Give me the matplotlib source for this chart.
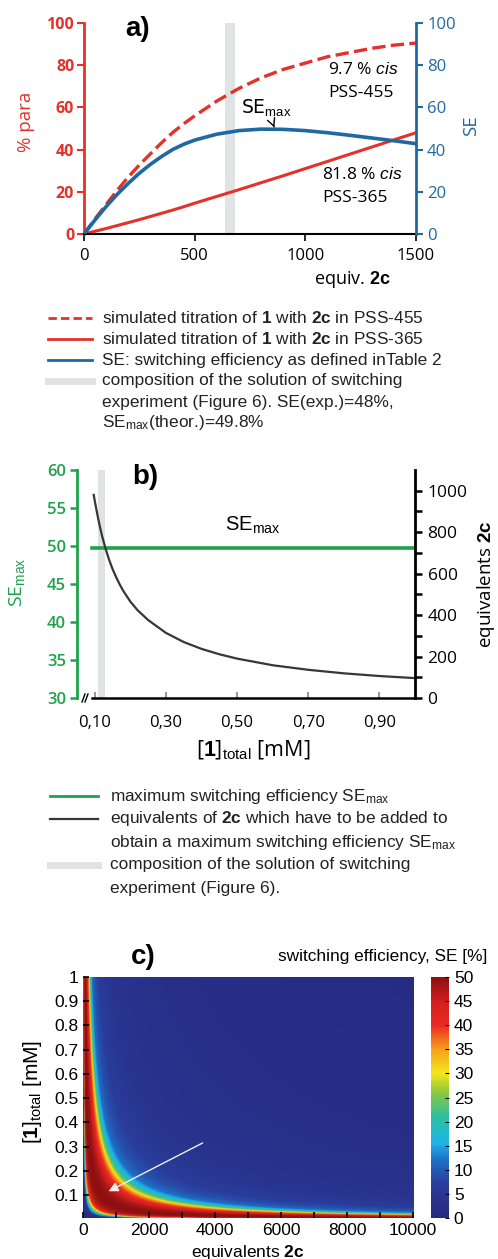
import numpy as np
import matplotlib
matplotlib.use("Agg")
import matplotlib.pyplot as plt
from matplotlib.lines import Line2D
from matplotlib.colors import LinearSegmentedColormap

#Data
#---------------------------------
#panel a: % para vs equiv. 2c
eq_a = [0, 50, 100, 150, 200, 250, 300, 350, 400, 450, 500, 600, 700, 800, 900, 1000, 1100, 1200, 1300, 1400, 1500]
para_455 = [0, 7.2, 14, 20.7, 27, 32.7, 38, 43.2, 48, 52.2, 56, 63, 69, 74, 78, 81, 84, 86, 88, 89.5, 90.5]
para_365 = [0, 1.3, 2.6, 4.0, 5.4, 6.8, 8.3, 9.8, 11.3, 12.9, 14.6, 17.8, 21.0, 24.3, 27.6, 31.0, 34.4, 37.8, 41.2, 44.6, 48.0]
se_a = [0, 6.7, 13, 18.8, 24, 28.8, 33, 36.7, 40, 42.5, 44.5, 47.3, 49, 49.7, 49.6, 49, 48, 46.8, 45.5, 44.2, 42.8]
exp_band_a = [635, 680]

#panel b: equivalents of 2c giving SEmax vs [1]total
c_b = [0.097, 0.10, 0.105, 0.11, 0.115, 0.12, 0.13, 0.14, 0.15, 0.16, 0.17, 0.18, 0.20, 0.22, 0.25,
       0.30, 0.35, 0.40, 0.45, 0.50, 0.60, 0.70, 0.80, 0.90, 1.00]
eq_b = [980, 950, 905, 862, 822, 785, 722, 668, 622, 583, 548, 517, 465, 424, 376,
        314, 270, 237, 211, 190, 158, 136, 119, 106, 96]
se_max = 49.8
se_line_x = [0.092, 1.0]
exp_band_b = [0.108, 0.128]

#panel c: SE read along the [1]total = 0.1 mM row (map follows equiv*[1] hyperbolas)
row_c = 0.1
row_equiv = [0, 30, 60, 85, 110, 140, 180, 250, 360, 500, 700, 1000, 1270, 1420, 1640,
             1820, 2020, 2320, 2730, 3500, 5000, 7000, 10000, 30000, 100000]
row_se = [0, 2, 5, 15, 22, 30, 40, 46, 49, 50, 49.5, 47, 43, 40, 36,
          30, 24, 17, 12, 9, 6.5, 5, 3.5, 2, 1]
arrow_from = (3700, 0.32); arrow_to = (700, 0.11)
#---------------------------------

#Figure settings
#---------------------------------
W = 498; H = 1259
red = '#e4312a'; blue = '#1f69a3'; green = '#1ea24b'; band = '#dfe3e3'; dark = '#3b3535'
plt.rcParams['mathtext.fontset'] = 'custom'
plt.rcParams['mathtext.rm'] = 'Liberation Sans'
plt.rcParams['mathtext.bf'] = 'Liberation Sans:bold'
plt.rcParams['mathtext.it'] = 'Liberation Sans:italic'
sans = 'Open Sans'; arial = 'Liberation Sans'
size_leg = 12.4

def box(l, t, r, b):
    return [l/W, 1-b/H, (r-l)/W, (b-t)/H]

def ftext(x, y, s, **kw):
    return fig.text(x/W, 1-y/H, s, **kw)

def fline(x0, x1, y0, y1, **kw):
    fig.add_artist(Line2D([x0/W, x1/W], [1-y0/H, 1-y1/H], transform=fig.transFigure, **kw))

fig = plt.figure(figsize=(W/100, H/100), dpi=100)
#---------------------------------

#Panel a
#---------------------------------
ax = fig.add_axes(box(84, 23, 416, 234))
ax.axvspan(exp_band_a[0], exp_band_a[1], color=band, lw=0, zorder=0)
ax.plot(eq_a, para_455, color=red, lw=2.4, dashes=(4, 1.6))
ax.plot(eq_a, para_365, color=red, lw=2.2)
ax2 = ax.twinx()
ax2.plot(eq_a, se_a, color=blue, lw=2.6)
ax.set_xlim(0, 1500); ax.set_ylim(0, 100); ax2.set_ylim(0, 100)
ax.set_xticks([0, 500, 1000, 1500]); ax.set_yticks(range(0, 101, 20)); ax2.set_yticks(range(0, 101, 20))
for a in (ax, ax2):
    a.spines['top'].set_visible(False)
ax.spines['left'].set_color(red); ax.spines['left'].set_linewidth(2)
ax2.spines['right'].set_color(blue); ax2.spines['right'].set_linewidth(2)
ax.spines['bottom'].set_linewidth(1.5)
ax2.spines['left'].set_visible(False); ax2.spines['bottom'].set_visible(False)
ax.spines['right'].set_visible(False)
ax.tick_params(axis='y', colors=red, labelsize=11.5, length=5, width=1.5, pad=2)
ax2.tick_params(axis='y', colors=blue, labelsize=12, length=5, width=1.5, pad=3)
ax.tick_params(axis='x', labelsize=12, length=5, width=1.2, pad=5)
for lab in ax.get_xticklabels() + ax2.get_yticklabels():
    lab.set_family(sans)
for lab in ax.get_yticklabels():
    lab.set_family(sans); lab.set_weight('bold')
ftext(26, 122, '% para', rotation=90, color=red, fontsize=13.5, family=sans, ha='center', va='center')
ftext(471, 126, 'SE', rotation=90, color=blue, fontsize=13.5, family=sans, ha='center', va='center')
ftext(352, 279, r'equiv. $\mathbf{2c}$', fontsize=13, family=sans, ha='center', va='center')
ftext(138, 29, 'a)', fontsize=20, weight='bold', family=arial, ha='center', va='center')
ax.annotate(r'SE$_{\rm max}$', xy=(860, 50.5), xytext=(825, 60), fontsize=13.5, ha='center', va='center',
            arrowprops=dict(arrowstyle='->', color='black', lw=1, shrinkA=5, shrinkB=0))
ax.text(1102, 77.5, r'9.7 % $\it{cis}$', fontsize=12.5, va='center', ha='left', family=sans)
ax.text(1102, 67, 'PSS-455', fontsize=12.5, va='center', ha='left', family=sans)
ax.text(1075, 28, r'81.8 % $\it{cis}$', fontsize=12.5, va='center', ha='left', family=sans)
ax.text(1078, 17, 'PSS-365', fontsize=12.5, va='center', ha='left', family=sans)

#legend a
fline(48, 92, 318, 318, color=red, lw=2, dashes=(3, 1.5))
fline(48, 92, 339, 339, color=red, lw=2)
fline(48, 92, 360, 360, color=blue, lw=2)
fline(48, 92, 381, 381, color=band, lw=5)
leg_a = [r'simulated titration of $\mathbf{1}$ with $\mathbf{2c}$ in PSS-455',
         r'simulated titration of $\mathbf{1}$ with $\mathbf{2c}$ in PSS-365',
         'SE: switching efficiency as defined inTable 2',
         'composition of the solution of switching',
         'experiment (Figure 6). SE(exp.)=48%,',
         r'SE$_{\rm max}$(theor.)=49.8%']
for i, s in enumerate(leg_a):
    ftext(102, 318 + 21*i, s, fontsize=size_leg, family=arial, va='center', color='#222222')
#---------------------------------

#Panel b
#---------------------------------
bx = fig.add_axes(box(77, 470, 415, 698))
bx.axvspan(exp_band_b[0], exp_band_b[1], color=band, lw=0, zorder=0)
bx.plot(se_line_x, [se_max, se_max], color=green, lw=2.6)
bx.set_xlim(0.05, 1.0); bx.set_ylim(30, 60)
bx.set_yticks(range(30, 61, 5))
bx.set_xticks([0.1, 0.3, 0.5, 0.7, 0.9])
bx.set_xticklabels(['0,10', '0,30', '0,50', '0,70', '0,90'])
bx2 = bx.twinx()
bx2.plot(c_b, eq_b, color=dark, lw=1.6)
bx2.set_ylim(0, 1100)
bx2.set_yticks(range(0, 1001, 200)); bx2.set_yticks(range(100, 1000, 200), minor=True)
for a in (bx, bx2):
    a.spines['top'].set_visible(False)
bx.spines['right'].set_visible(False); bx2.spines['left'].set_visible(False)
bx2.spines['bottom'].set_visible(False)
bx.spines['left'].set_color(green); bx.spines['left'].set_linewidth(2)
bx2.spines['right'].set_linewidth(2)
bx.spines['bottom'].set_linewidth(1.8); bx.spines['bottom'].set_bounds(0.092, 1.0)
bx.tick_params(axis='y', colors=green, labelsize=12, length=5, width=1.8, pad=3)
bx2.tick_params(axis='y', which='both', labelsize=12.5, length=5, width=1.8, pad=4)
bx.tick_params(axis='x', direction='in', length=4, width=1.5, color='#999999', labelsize=12, pad=12)
for lab in bx.get_xticklabels() + bx2.get_yticklabels():
    lab.set_family(sans)
for lab in bx.get_yticklabels():
    lab.set_family(sans); lab.set_weight('semibold')
#axis break marks
for dx in (0, 3):
    fline(82 + dx, 85 + dx, 702, 694, color='black', lw=1)
ftext(17, 582, r'SE$_{\rm max}$', rotation=90, color=green, fontsize=14, family=sans, ha='center', va='center')
ftext(486, 584, r'equivalents $\mathbf{2c}$', rotation=90, fontsize=13.5, family=sans, ha='center', va='center')
ftext(253, 750, r'[$\mathbf{1}$]$_{\rm total}$ [mM]', fontsize=15.5, family=sans, ha='center', va='center')
ftext(145, 477, 'b)', fontsize=20, weight='bold', family=arial, ha='center', va='center')
ftext(253, 525, r'SE$_{\rm max}$', fontsize=14.5, family=arial, ha='center', va='center')

#legend b
fline(50, 98, 796, 796, color=green, lw=2)
fline(50, 98, 819, 819, color=dark, lw=1.6)
fline(50, 98, 865, 865, color=band, lw=5)
leg_b = [r'maximum switching efficiency SE$_{\rm max}$',
         r'equivalents of $\mathbf{2c}$ which have to be added to',
         r'obtain a maximum switching efficiency SE$_{\rm max}$',
         'composition of the solution of switching',
         'experiment (Figure 6).']
for i, s in enumerate(leg_b):
    ftext(110, 796 + 23*i, s, fontsize=size_leg, family=arial, va='center', color='#222222')
#---------------------------------

#Panel c
#---------------------------------
cx = fig.add_axes(box(83, 977, 413, 1218))
eq_grid = np.linspace(0, 10000, 800)
c_grid = np.linspace(0.005, 1.0, 500)
EQ, C = np.meshgrid(eq_grid, c_grid)
SE = np.interp(EQ*C/row_c, row_equiv, row_se)
se_cmap = LinearSegmentedColormap.from_list('se', [
    (0.0, '#262a80'), (0.14, '#2a3d9c'), (0.24, '#1f6fc6'), (0.31, '#1eb4e8'),
    (0.42, '#2cc0a0'), (0.52, '#8cc63f'), (0.6, '#f3e61b'), (0.7, '#f7a11a'),
    (0.8, '#ec2a24'), (0.9, '#d11f1f'), (1.0, '#8c1010')])
im = cx.imshow(SE, origin='lower', extent=[0, 10000, 0.005, 1.0], aspect='auto',
               cmap=se_cmap, vmin=0, vmax=50, interpolation='bilinear')
cx.set_xlim(0, 10000); cx.set_ylim(0.005, 1.0)
cx.set_xticks(range(0, 10001, 2000)); cx.set_xticks(range(1000, 10000, 2000), minor=True)
cx.set_yticks([0.1, 0.2, 0.3, 0.4, 0.5, 0.6, 0.7, 0.8, 0.9, 1.0])
cx.set_yticklabels(['0.1', '0.2', '0.3', '0.4', '0.5', '0.6', '0.7', '0.8', '0.9', '1'])
cx.tick_params(which='both', direction='in', length=4, width=1.2, labelsize=12.5)
for sp in cx.spines.values():
    sp.set_visible(False)
for lab in cx.get_xticklabels() + cx.get_yticklabels():
    lab.set_family(arial)
cx.annotate('', xy=arrow_to, xytext=arrow_from,
            arrowprops=dict(arrowstyle='-|>', color='#eeeeee', lw=1, mutation_scale=14))
cax = fig.add_axes(box(431, 977, 449, 1218))
cb = fig.colorbar(im, cax=cax, ticks=range(0, 51, 5))
cb.outline.set_visible(False)
cax.tick_params(labelsize=12.5, length=3, direction='in')
for lab in cax.get_yticklabels():
    lab.set_family(arial)
ftext(32, 1092, r'[$\mathbf{1}$]$_{\rm total}$ [mM]', rotation=90, fontsize=15, family=arial, ha='center', va='center')
ftext(248, 1252, r'equivalents $\mathbf{2c}$', fontsize=12.5, family=arial, ha='center', va='center')
ftext(487, 957, 'switching efficiency, SE [%]', fontsize=12.4, family=arial, ha='right', va='center')
ftext(143, 957, 'c)', fontsize=20, weight='bold', family=arial, ha='center', va='center')
#---------------------------------

fig.savefig('out.png', dpi=100)
